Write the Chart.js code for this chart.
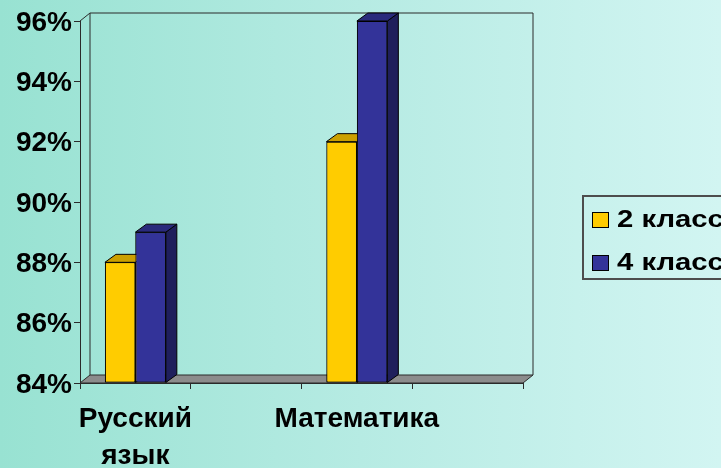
<!DOCTYPE html>
<html>
<head>
<meta charset="utf-8">
<script src="https://cdn.jsdelivr.net/npm/chart.js@4.4.0/dist/chart.umd.min.js"></script>
<style>
html,body{margin:0;padding:0;overflow:hidden;}
body{width:721px;height:468px;background:linear-gradient(to right,#98e2d2 0%,#b6ebe3 50%,#d2f5f2 100%);position:relative;font-family:"Liberation Sans",Arial,sans-serif;}
#c{position:absolute;left:0;top:0;}
#legend{position:absolute;left:582px;top:195px;width:170px;height:85px;border:2px solid #4d4d4d;box-sizing:border-box;}
.sw{position:absolute;left:8px;width:17px;height:16px;border:1px solid #000;box-sizing:border-box;}
.tx{position:absolute;left:33px;font-weight:bold;font-size:24px;line-height:24px;color:#000;white-space:nowrap;transform:scaleX(1.22);transform-origin:0 0;}
</style>
</head>
<body>
<canvas id="c" width="721" height="468"></canvas>
<div id="legend"></div>
<script>
const categories = [["Русский", "язык"], "", "Математика", ""];
const seriesNames = ["2 класс", "4 класс"];
const class2 = [88, null, 92, null];
const class4 = [89, null, 96, null];
const yTicks = [84, 86, 88, 90, 92, 94, 96];

const frontColors = ["#FFCC00", "#333399"];
const topColors = ["#CCA000", "#2A2A7C"];
const sideColors = ["#A88400", "#1F1F5C"];

const depth3d = {
  id: 'depth3d',
  beforeDatasetsDraw(chart) {
    const {ctx, chartArea: a} = chart;
    const dx = 10, dy = -8;
    ctx.save();
    ctx.lineWidth = 1;
    ctx.strokeStyle = '#2b2b2b';
    ctx.beginPath();
    ctx.moveTo(a.left, a.top);
    ctx.lineTo(a.left + dx, a.top + dy);
    ctx.lineTo(a.right + dx, a.top + dy);
    ctx.lineTo(a.right + dx, a.bottom + dy);
    ctx.moveTo(a.left + dx, a.top + dy);
    ctx.lineTo(a.left + dx, a.bottom + dy);
    ctx.stroke();
    ctx.beginPath();
    ctx.moveTo(a.left, a.bottom);
    ctx.lineTo(a.right, a.bottom);
    ctx.lineTo(a.right + dx, a.bottom + dy);
    ctx.lineTo(a.left + dx, a.bottom + dy);
    ctx.closePath();
    ctx.fillStyle = '#8c8c8c';
    ctx.fill();
    ctx.stroke();
    ctx.restore();
  },
  afterDatasetsDraw(chart) {
    const ctx = chart.ctx;
    const dx = 11, dy = -8;
    chart.data.datasets.forEach((ds, i) => {
      const meta = chart.getDatasetMeta(i);
      meta.data.forEach((el, j) => {
        if (ds.data[j] == null) return;
        const p = el.getProps(['x', 'y', 'base', 'width'], true);
        const l = p.x - p.width / 2, r = p.x + p.width / 2;
        ctx.save();
        ctx.lineWidth = 1;
        ctx.strokeStyle = '#000';
        ctx.beginPath();
        ctx.moveTo(r, p.y); ctx.lineTo(r + dx, p.y + dy); ctx.lineTo(r + dx, p.base + dy); ctx.lineTo(r, p.base); ctx.closePath();
        ctx.fillStyle = sideColors[i]; ctx.fill(); ctx.stroke();
        ctx.beginPath();
        ctx.moveTo(l, p.y); ctx.lineTo(l + dx, p.y + dy); ctx.lineTo(r + dx, p.y + dy); ctx.lineTo(r, p.y); ctx.closePath();
        ctx.fillStyle = topColors[i]; ctx.fill(); ctx.stroke();
        ctx.restore();
        el.draw(ctx, chart.chartArea);
      });
    });
  }
};

const chart = new Chart(document.getElementById('c'), {
  type: 'bar',
  data: {
    labels: categories,
    datasets: [
      {label: seriesNames[0], data: class2, base: yTicks[0], backgroundColor: frontColors[0], borderColor: '#000', borderWidth: 1, borderSkipped: false},
      {label: seriesNames[1], data: class4, base: yTicks[0], backgroundColor: frontColors[1], borderColor: '#000', borderWidth: 1, borderSkipped: false}
    ]
  },
  options: {
    responsive: false,
    devicePixelRatio: 1,
    animation: false,
    categoryPercentage: 0.55,
    barPercentage: 1,
    layout: {padding: {left: 0, top: 21, right: 198, bottom: 0}},
    plugins: {legend: {display: false}, tooltip: {enabled: false}},
    scales: {
      x: {
        grid: {drawOnChartArea: false, tickLength: 6, color: '#2b2b2b', offset: true},
        border: {color: '#2b2b2b', width: 1},
        ticks: {color: '#000', font: {family: '"Liberation Sans", Arial', size: 28, weight: 'bold', lineHeight: 1.32}, padding: 12, maxRotation: 0, autoSkip: false},
        afterFit: s => { s.height = 85; }
      },
      y: {
        min: 84, max: 96,
        afterBuildTicks: s => { s.ticks = yTicks.map(v => ({value: v})); },
        grid: {drawOnChartArea: false, tickLength: 6, color: '#2b2b2b'},
        border: {color: '#2b2b2b', width: 1},
        ticks: {color: '#000', font: {family: '"Liberation Sans", Arial', size: 28, weight: 'bold'}, padding: 2, labelOffset: 2, callback: v => v + '%'},
        afterFit: s => { s.width = 80; }
      }
    }
  },
  plugins: [depth3d]
});

const lg = document.getElementById('legend');
seriesNames.forEach((n, i) => {
  const sw = document.createElement('div');
  sw.className = 'sw';
  sw.style.top = (15 + i * 43) + 'px';
  sw.style.background = frontColors[i];
  lg.appendChild(sw);
  const t = document.createElement('div');
  t.className = 'tx';
  t.style.top = (10 + i * 43) + 'px';
  t.textContent = n;
  lg.appendChild(t);
});
</script>
</body>
</html>
